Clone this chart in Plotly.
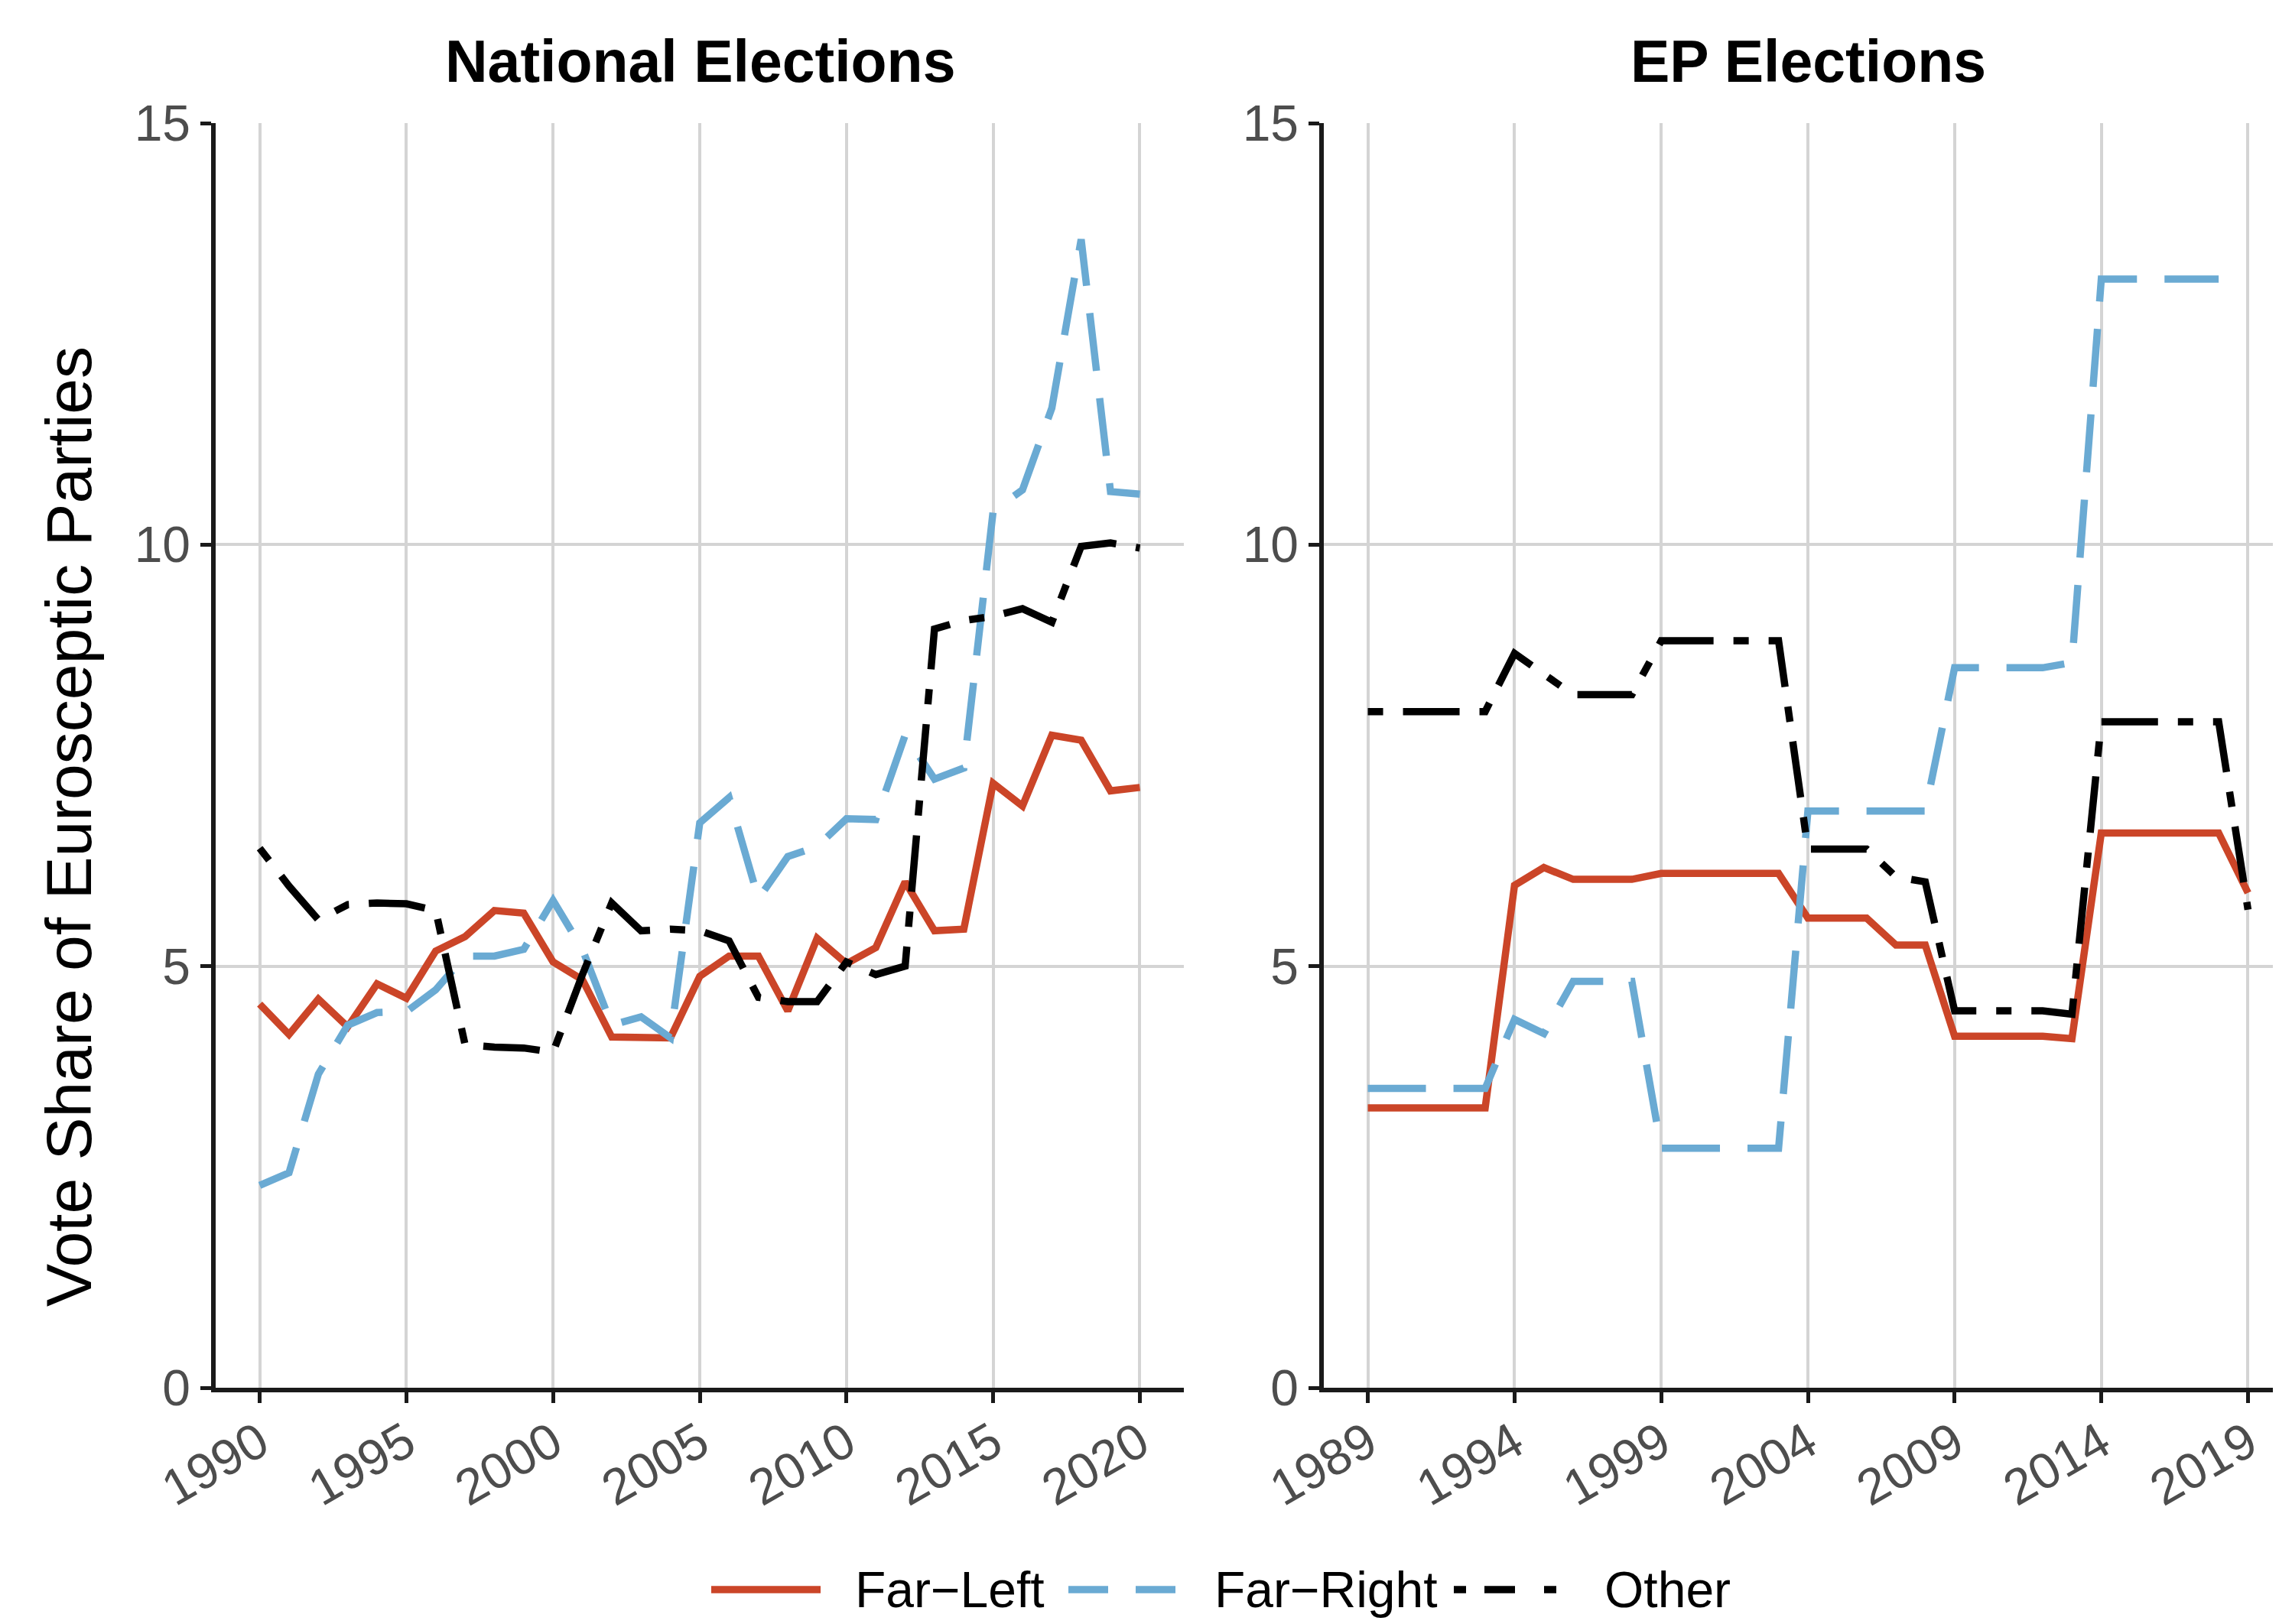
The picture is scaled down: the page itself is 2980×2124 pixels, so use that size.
import plotly.graph_objects as go

# ---------------- data ----------------
nat_years = list(range(1990, 2021))
nat_far_left = [4.55, 4.19, 4.61, 4.28, 4.79, 4.62, 5.18, 5.35, 5.66, 5.63,
                5.05, 4.84, 4.16, 4.16, 4.15, 4.88, 5.12, 5.12, 4.47, 5.33,
                5.03, 5.22, 6.00, 5.42, 5.44, 7.17, 6.90, 7.74, 7.68, 7.08, 7.12]
nat_far_right = [2.40, 2.55, 3.72, 4.30, 4.45, 4.46, 4.72, 5.12, 5.12, 5.20,
                 5.78, 5.20, 4.30, 4.40, 4.15, 6.70, 7.00, 5.80, 6.30, 6.42,
                 6.75, 6.74, 7.74, 7.22, 7.35, 10.40, 10.65, 11.62, 13.62, 10.63, 10.60]
nat_other = [6.40, 5.95, 5.55, 5.73, 5.75, 5.74, 5.66, 4.07, 4.04, 4.03,
             3.98, 4.90, 5.75, 5.42, 5.44, 5.42, 5.30, 4.63, 4.58, 4.58,
             5.05, 4.90, 5.00, 9.00, 9.10, 9.15, 9.24, 9.08, 9.98, 10.02, 9.96]

ep_years = list(range(1989, 2020))
ep_far_left = [3.32, 3.32, 3.32, 3.32, 3.32, 5.96, 6.17, 6.03, 6.03, 6.03,
               6.10, 6.10, 6.10, 6.10, 6.10, 5.57, 5.57, 5.57, 5.25, 5.25,
               4.17, 4.17, 4.17, 4.17, 4.14, 6.58, 6.58, 6.58, 6.58, 6.58, 5.87]
ep_far_right = [3.55, 3.55, 3.55, 3.55, 3.55, 4.37, 4.20, 4.82, 4.82, 4.82,
                2.84, 2.84, 2.84, 2.84, 2.84, 6.84, 6.84, 6.84, 6.84, 6.84,
                8.54, 8.54, 8.54, 8.54, 8.60, 13.15, 13.15, 13.15, 13.15, 13.15, None]
ep_other = [8.02, 8.02, 8.02, 8.02, 8.02, 8.71, 8.46, 8.22, 8.22, 8.22,
            8.86, 8.86, 8.86, 8.86, 8.86, 6.39, 6.39, 6.39, 6.06, 6.00,
            4.47, 4.47, 4.47, 4.47, 4.43, 7.90, 7.90, 7.90, 7.90, 7.90, 5.67]

nat_ticks = [1990, 1995, 2000, 2005, 2010, 2015, 2020]
ep_ticks = [1989, 1994, 1999, 2004, 2009, 2014, 2019]
y_ticks = [0, 5, 10, 15]

series_names = ["Far\u2212Left", "Far\u2212Right", "Other"]
panel_titles = ["National Elections", "EP Elections"]
y_title = "Vote Share of Eurosceptic Parties"

# ---------------- style ----------------
FONT = "Liberation Sans, Arial, Helvetica, sans-serif"
RED = "#CB4528"
BLUE = "#6AAAD3"
BLACK = "#000000"
LW = 9.5
DASH_BLUE = "76px,36px"
DASH_BLACK = "20px,26px,74px,26px"
GRID = "#D4D4D4"
AXIS = "#1A1A1A"
TICKCOL = "#4D4D4D"

W, H = 2980, 2124
ML, MR, MT, MB = 274, 0, 153, 317

fig = go.Figure()

styles = [dict(color=RED, width=LW, dash="solid"),
          dict(color=BLUE, width=LW, dash=DASH_BLUE),
          dict(color=BLACK, width=LW, dash=DASH_BLACK)]

for ys, st, nm in zip([nat_far_left, nat_far_right, nat_other], styles, series_names):
    fig.add_trace(go.Scatter(x=nat_years, y=ys, mode="lines", line=st, name=nm,
                             showlegend=False, xaxis="x", yaxis="y",
                             connectgaps=False))
for ys, st, nm in zip([ep_far_left, ep_far_right, ep_other], styles, series_names):
    fig.add_trace(go.Scatter(x=ep_years, y=ys, mode="lines", line=st, name=nm,
                             showlegend=False, xaxis="x2", yaxis="y2",
                             connectgaps=False))

pw = W - ML - MR
ph = H - MT - MB
left_dom = [0, (1540 - ML) / pw]
right_dom = [(1723 - ML) / pw, 1.0]
px_per_year = (1540 - 274) / 33.0
right_end = 1987.5 + (W - 1723) / px_per_year

common_x = dict(showgrid=True, gridcolor=GRID, gridwidth=3.5,
                showline=True, linecolor=AXIS, linewidth=5.5,
                ticks="outside", ticklen=14, tickwidth=5, tickcolor=AXIS,
                tickangle=-30, tickfont=dict(family=FONT, size=66, color=TICKCOL),
                zeroline=False, tickmode="array", ticklabelstandoff=-12)
common_y = dict(showgrid=True, gridcolor=GRID, gridwidth=3.5,
                showline=True, linecolor=AXIS, linewidth=5.5,
                ticks="outside", ticklen=14, tickwidth=5, tickcolor=AXIS,
                tickfont=dict(family=FONT, size=66, color=TICKCOL),
                zeroline=False, range=[0, 15], tickmode="array",
                tickvals=y_ticks, ticktext=[str(v) for v in y_ticks],
                ticklabelstandoff=0)

fig.update_layout(
    width=W, height=H,
    margin=dict(l=ML, r=MR, t=MT, b=MB, autoexpand=False),
    paper_bgcolor="white", plot_bgcolor="white",
    showlegend=False,
    xaxis=dict(domain=left_dom, range=[1988.5, 2021.5], anchor="y",
               tickvals=nat_ticks, ticktext=[str(t) for t in nat_ticks], **common_x),
    xaxis2=dict(domain=right_dom, range=[1987.5, right_end], anchor="y2",
                tickvals=ep_ticks, ticktext=[str(t) for t in ep_ticks], **common_x),
    yaxis=dict(domain=[0, 1], anchor="x", **common_y),
    yaxis2=dict(domain=[0, 1], anchor="x2", **common_y),
)

def px_x(p):
    return (p - ML) / pw

def px_y(p):
    return (H - MB - p) / ph

# y-axis title (sits a little below the panel centre in the reference)
fig.add_annotation(text=y_title, xref="paper", yref="paper",
                   x=px_x(82), y=px_y(1073), textangle=-90, showarrow=False,
                   xanchor="center", yanchor="middle",
                   font=dict(family=FONT, size=84, color="black"))

# panel titles
title_y = px_y(72)
fig.add_annotation(text=panel_titles[0], xref="x", yref="paper",
                   x=(1988.5 + 2021.5) / 2, y=title_y, showarrow=False,
                   xanchor="center", yanchor="middle",
                   font=dict(family=FONT, size=77, color="black", weight="bold"))
fig.add_annotation(text=panel_titles[1], xref="x2", yref="paper",
                   x=(1987.5 + 2020.5) / 2, y=title_y, showarrow=False,
                   xanchor="center", yanchor="middle",
                   font=dict(family=FONT, size=77, color="black", weight="bold"))

# custom legend at the bottom
leg_y = px_y(2071)
legend_items = [
    (922, 1065, 1108, dict(color=RED, width=LW, dash="solid")),
    (1389, 1532, 1578, dict(color=BLUE, width=LW, dash="52px,36px")),
    (1893, 2036, 2088, dict(color=BLACK, width=LW, dash="16px,24px,40px,38px")),
]
for (x0, x1, xt, ln), nm in zip(legend_items, series_names):
    fig.add_shape(type="line", xref="paper", yref="paper",
                  x0=px_x(x0), x1=px_x(x1), y0=leg_y, y1=leg_y, line=ln)
    fig.add_annotation(text=nm, xref="paper", yref="paper", x=px_x(xt), y=leg_y,
                       showarrow=False, xanchor="left", yanchor="middle",
                       font=dict(family=FONT, size=66, color="black"))

fig.write_html("out.html")
